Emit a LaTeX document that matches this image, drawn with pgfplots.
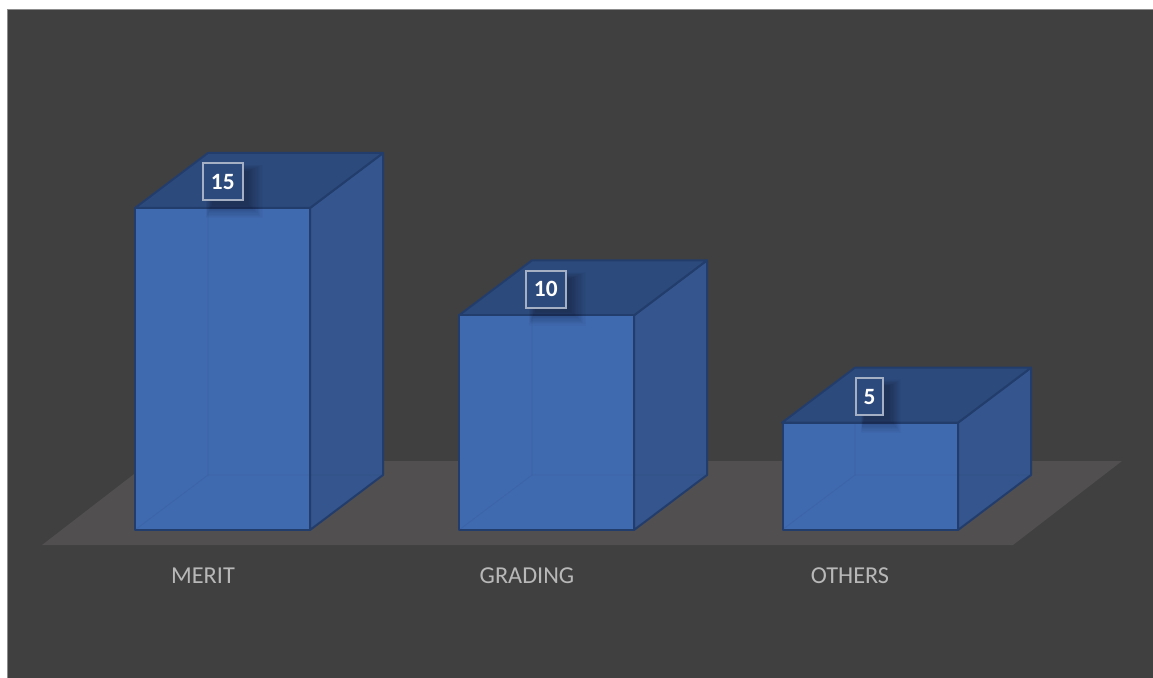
\documentclass[border=0pt]{standalone}
\usepackage{fontspec}
\setmainfont{Carlito}
\usepackage{pgfplots}
\pgfplotsset{compat=1.18}
\usetikzlibrary{shadows}
\definecolor{panel}{HTML}{404040}
\definecolor{panelrule}{HTML}{8C8C8C}
\definecolor{floorcol}{HTML}{514F4F}
\definecolor{frontcol}{HTML}{406AB0}
\definecolor{sidecol}{HTML}{34558D}
\definecolor{topcol}{HTML}{2C4A7C}
\definecolor{edgecol}{HTML}{223D6C}
\definecolor{labelrule}{HTML}{A6B0C4}
\definecolor{catcol}{HTML}{B8B8B8}
% x runs in units of 0.75pt, y in chart values (one unit = 21.467 x-units)
\tikzset{
  face/.style={draw=edgecol, line width=1.5pt, line join=round},
  softshadow/.style={general shadow={shadow xshift=6pt, shadow yshift=-5pt,
      shadow scale=#1, fill=black, opacity=.022, rounded corners=8pt}},
}
\begin{document}
\begin{tikzpicture}
\begin{axis}[
  axis on top,
  scale only axis, width=864.75pt, height=508.5pt,
  xmin=0, xmax=1153, ymin=-6.894, ymax=24.689,
  axis line style={draw=none}, tick style={draw=none},
  ytick=\empty,
  xtick={203,527,850},
  xticklabels={MERIT,GRADING,OTHERS},
  xticklabel style={anchor=base, yshift=70.6pt, text=catcol,
    font=\fontsize{18.2}{20}\selectfont},
  axis background/.style={fill=white},
]
% panel and floor
\addplot[fill=panel, draw=panelrule, line width=1.2pt]
  coordinates {(7.5,24.25) (1160,24.25) (1160,-8) (7.5,-8)} --cycle;
\addplot[fill=floorcol, draw=none]
  coordinates {(42,-0.699) (151,3.214) (1122,3.214) (1013,-0.699)} --cycle;

% side faces
\addplot[face, fill=sidecol] coordinates {(310,0) (383,2.562) (383,17.562) (310,15)} --cycle;
\addplot[face, fill=sidecol] coordinates {(634,0) (707,2.562) (707,12.562) (634,10)} --cycle;
\addplot[face, fill=sidecol] coordinates {(958,0) (1031,2.562) (1031,7.562) (958,5)} --cycle;
% top faces
\addplot[face, fill=topcol] coordinates {(135,15) (208,17.562) (383,17.562) (310,15)} --cycle;
\addplot[face, fill=topcol] coordinates {(459,10) (532,12.562) (707,12.562) (634,10)} --cycle;
\addplot[face, fill=topcol] coordinates {(782,5) (855,7.562) (1031,7.562) (958,5)} --cycle;
% front faces
\addplot[ybar, bar width=131.25pt, bar shift=0pt, face, fill=frontcol]
  coordinates {(222.5,15) (546.5,10) (870,5)};
% hidden edges showing faintly through the fronts
\addplot[edgecol, opacity=.10, line width=.8pt] coordinates {(135,0) (208,2.562) (208,15)};
\addplot[edgecol, opacity=.10, line width=.8pt] coordinates {(459,0) (532,2.562) (532,10)};
\addplot[edgecol, opacity=.10, line width=.8pt] coordinates {(782,0) (855,2.562) (855,5)};
\addplot[edgecol, opacity=.05, line width=.8pt] coordinates {(208,2.562) (383,2.562)};
\addplot[edgecol, opacity=.05, line width=.8pt] coordinates {(532,2.562) (707,2.562)};
\addplot[edgecol, opacity=.05, line width=.8pt] coordinates {(855,2.562) (1031,2.562)};
% value labels
\addplot[draw=none, mark=none, point meta=explicit symbolic,
  nodes near coords,
  every node near coord/.append style={
    anchor=center, yshift=19.6pt, text=white,
    font=\fontsize{17.5}{18}\selectfont\bfseries,
    fill=topcol, draw=labelrule, line width=1.4pt,
    inner xsep=6pt, inner ysep=0pt, minimum height=27.75pt,
    softshadow=1.45, softshadow=1.40, softshadow=1.35, softshadow=1.30,
    softshadow=1.25, softshadow=1.20, softshadow=1.15, softshadow=1.10,
    softshadow=1.05, softshadow=1.00, softshadow=.95, softshadow=.90},
] coordinates {(222.8,15) [15] (545.8,10) [10] (869.5,5) [5]};
\end{axis}
\end{tikzpicture}
\end{document}
